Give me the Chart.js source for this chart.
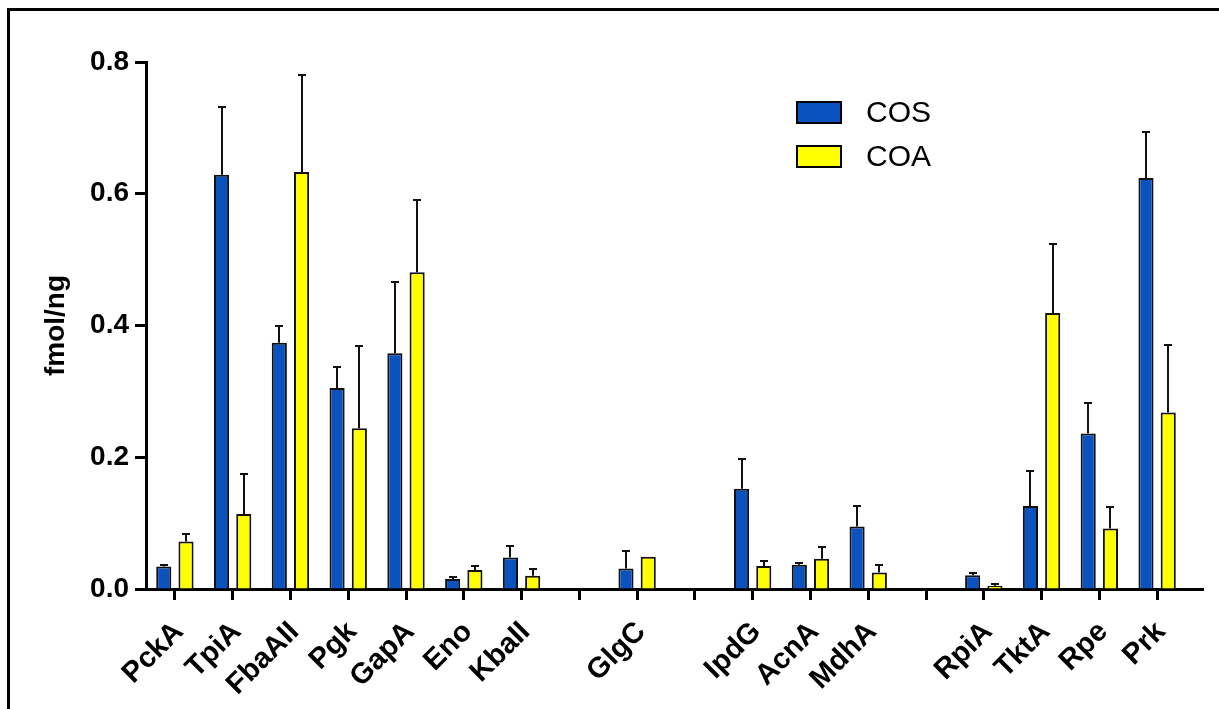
<!DOCTYPE html>
<html>
<head>
<meta charset="utf-8">
<script src="https://cdn.jsdelivr.net/npm/chart.js@4.4.1/dist/chart.umd.min.js"></script>
<style>
  html, body { margin: 0; padding: 0; background: #ffffff; }
  #wrap { width: 1219px; height: 709px; position: relative; }
</style>
</head>
<body>
<div id="wrap"><canvas id="c" width="1219" height="709"></canvas></div>
<script>
// Protein amounts per category; empty labels are spacers between pathway groups
const categories = ['PckA', 'TpiA', 'FbaAII', 'Pgk', 'GapA', 'Eno', 'KbaII', '', 'GlgC', '', 'IpdG', 'AcnA', 'MdhA', '', 'RpiA', 'TktA', 'Rpe', 'Prk'];
const cosValues = [0.034, 0.629, 0.374, 0.305, 0.358, 0.015, 0.048, null, 0.031, null, 0.152, 0.037, 0.095, null, 0.021, 0.126, 0.236, 0.624];
const cosErrors = [0.002, 0.103, 0.026, 0.032, 0.108, 0.003, 0.017, null, 0.027, null, 0.045, 0.002, 0.031, null, 0.004, 0.053, 0.047, 0.070];
const coaValues = [0.072, 0.114, 0.633, 0.244, 0.481, 0.029, 0.020, null, 0.049, null, 0.035, 0.046, 0.025, null, 0.005, 0.419, 0.092, 0.268];
const coaErrors = [0.012, 0.060, 0.148, 0.125, 0.110, 0.006, 0.011, null, 0, null, 0.007, 0.017, 0.011, null, 0.003, 0.105, 0.033, 0.102];
const yTickValues = [0, 0.2, 0.4, 0.6, 0.8];
const yTickLabels = ['0.0', '0.2', '0.4', '0.6', '0.8'];
const seriesNames = ['COS', 'COA'];

const FONT = "'Liberation Sans', Arial, sans-serif";

// Same half-pixel alignment Chart.js uses for its axis borders
function alignPx(p, w) { return Math.round(p - w / 2) + w / 2; }

// Upward-only error bars with a short cap
const errorBarPlugin = {
  id: 'errorBars',
  afterDatasetsDraw(chart, args, opts) {
    const ctx = chart.ctx;
    const y = chart.scales.y;
    chart.data.datasets.forEach((ds, i) => {
      const meta = chart.getDatasetMeta(i);
      meta.data.forEach((bar, j) => {
        const v = ds.data[j];
        const e = ds.errors[j];
        if (v == null || !e) return;
        const top = alignPx(y.getPixelForValue(v + e), opts.width);
        const x = alignPx(bar.x, opts.width);
        ctx.save();
        ctx.strokeStyle = opts.color;
        ctx.lineWidth = opts.width;
        ctx.beginPath();
        ctx.moveTo(x, bar.y);
        ctx.lineTo(x, top);
        ctx.moveTo(x - opts.cap / 2, top);
        ctx.lineTo(x + opts.cap / 2, top);
        ctx.stroke();
        ctx.restore();
      });
    });
  }
};

// Legend boxes inside the plot area
const insetLegendPlugin = {
  id: 'insetLegend',
  afterDraw(chart, args, opts) {
    const ctx = chart.ctx;
    chart.data.datasets.forEach((ds, i) => {
      const bx = opts.x, by = opts.y + i * opts.rowGap;
      ctx.save();
      ctx.fillStyle = ds.backgroundColor;
      ctx.fillRect(bx, by, opts.boxW, opts.boxH);
      ctx.strokeStyle = '#000';
      ctx.lineWidth = 2;
      ctx.strokeRect(bx, by, opts.boxW, opts.boxH);
      ctx.fillStyle = '#000';
      ctx.font = 'normal ' + opts.fontSize + 'px ' + FONT;
      ctx.textBaseline = 'middle';
      ctx.textAlign = 'left';
      ctx.fillText(ds.label, bx + opts.boxW + opts.textGap, by + opts.boxH / 2 + 1);
      ctx.restore();
    });
  }
};

// Page frame and the x-axis line running past the last group
const framePlugin = {
  id: 'frame',
  beforeDraw(chart) {
    const ctx = chart.ctx;
    ctx.save();
    ctx.fillStyle = '#fff';
    ctx.fillRect(0, 0, chart.width, chart.height);
    ctx.strokeStyle = '#000';
    ctx.lineWidth = 3;
    ctx.beginPath();
    ctx.moveTo(8.5, chart.height);
    ctx.lineTo(8.5, 9.5);
    ctx.lineTo(chart.width, 9.5);
    ctx.stroke();
    ctx.restore();
  },
  afterDraw(chart) {
    const ctx = chart.ctx;
    const a = chart.chartArea;
    const y0 = alignPx(chart.scales.y.getPixelForValue(0), 3);
    ctx.save();
    ctx.strokeStyle = '#000';
    ctx.lineWidth = 3;
    ctx.beginPath();
    ctx.moveTo(a.right - 2, y0);
    ctx.lineTo(a.right + 18, y0);
    ctx.stroke();
    ctx.restore();
  }
};

new Chart(document.getElementById('c'), {
  type: 'bar',
  data: {
    labels: categories,
    datasets: [
      { label: seriesNames[0], data: cosValues, errors: cosErrors, backgroundColor: '#0A52BE', borderColor: '#111', borderWidth: 2 },
      { label: seriesNames[1], data: coaValues, errors: coaErrors, backgroundColor: '#FFFF00', borderColor: '#111', borderWidth: 2 }
    ]
  },
  options: {
    responsive: false,
    animation: false,
    devicePixelRatio: 1,
    layout: { padding: { left: 10, top: 62, right: 33, bottom: 0 } },
    datasets: { bar: { categoryPercentage: 0.77, barPercentage: 0.68 } },
    plugins: {
      legend: { display: false },
      tooltip: { enabled: false },
      errorBars: { color: '#111', width: 2, cap: 8 },
      insetLegend: { x: 797, y: 102, boxW: 44, boxH: 21, rowGap: 44, textGap: 25, fontSize: 30 }
    },
    scales: {
      x: {
        grid: { display: true, drawOnChartArea: false, drawTicks: true, tickLength: 11, tickWidth: 3, tickColor: '#000', offset: false },
        border: { display: true, color: '#000', width: 3 },
        ticks: { autoSkip: false, maxRotation: 45, minRotation: 45, padding: 15, labelOffset: 4, color: '#000', font: { family: FONT, size: 29, weight: 'bold' } },
        afterFit(s) { s.height = 120; }
      },
      y: {
        min: 0,
        max: 0.8,
        afterBuildTicks(s) { s.ticks = yTickValues.map(v => ({ value: v })); },
        grid: { display: true, drawOnChartArea: false, drawTicks: true, tickLength: 11, tickWidth: 3, tickColor: '#000' },
        border: { display: true, color: '#000', width: 3 },
        ticks: {
          padding: 6,
          color: '#000',
          font: { family: FONT, size: 28, weight: 'bold' },
          callback(v) { const k = yTickValues.indexOf(v); return k >= 0 ? yTickLabels[k] : ''; }
        },
        title: { display: true, text: 'fmol/ng', color: '#000', padding: { top: 29, bottom: 0 }, font: { family: FONT, size: 28, weight: 'bold' } },
        afterFit(s) { s.width = 136; }
      }
    }
  },
  plugins: [framePlugin, errorBarPlugin, insetLegendPlugin]
});
</script>
</body>
</html>
